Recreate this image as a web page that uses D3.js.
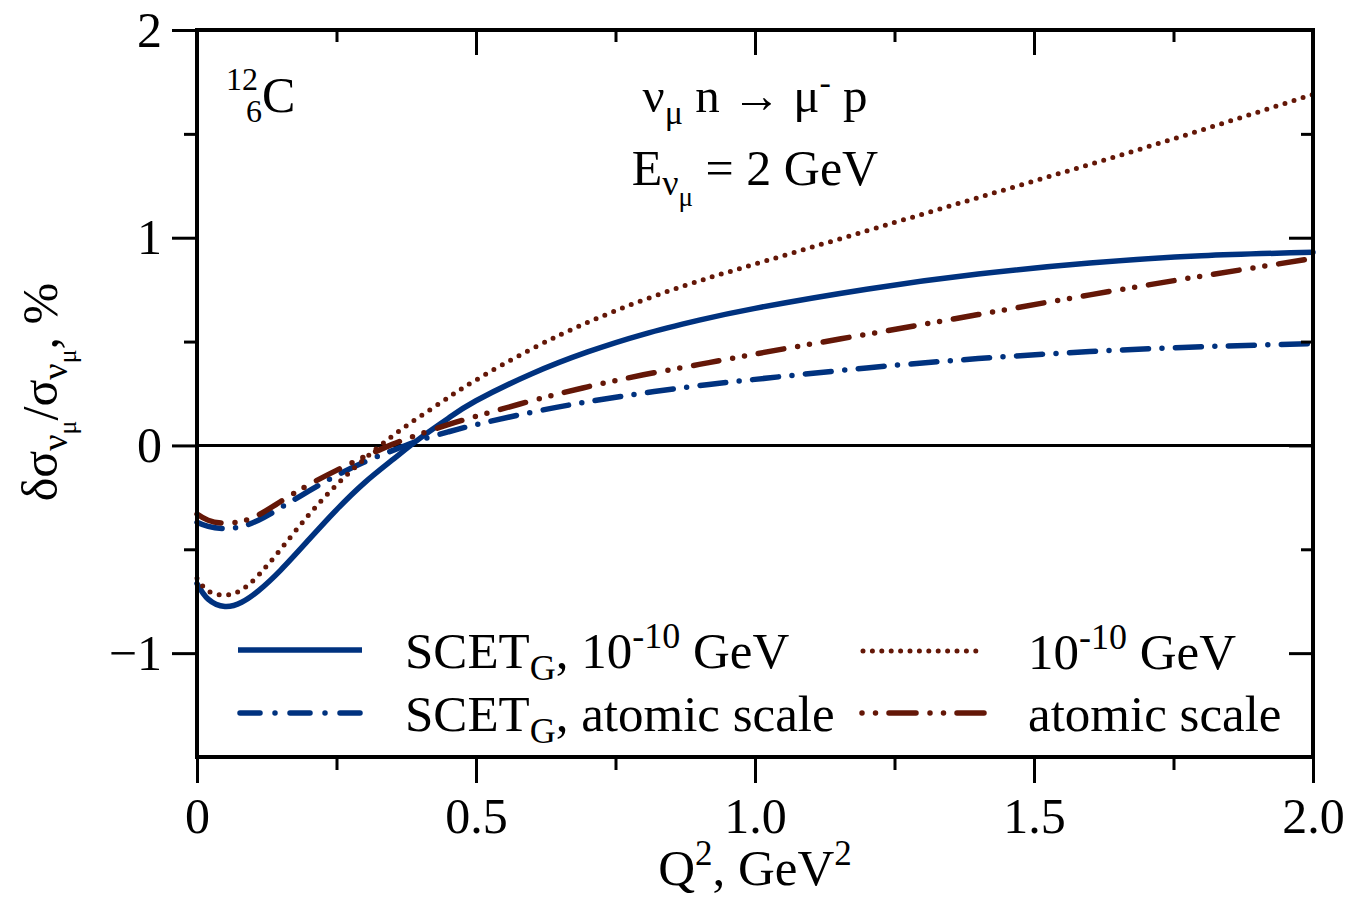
<!DOCTYPE html>
<html>
<head>
<meta charset="utf-8">
<script src="https://cdn.jsdelivr.net/npm/d3@7"></script>
<style>
  body { margin: 0; background: #fff; }
  svg text { font-family: "Liberation Serif", "Times New Roman", serif; fill: #000; }
</style>
</head>
<body>
<svg id="chart" width="1351" height="899"></svg>
<script>
const width = 1351;
const height = 899;
const margin = { top: 30, right: 38, bottom: 142, left: 197 };

// Q^2 sample points (GeV^2)
const q2 = [0, 0.02, 0.05, 0.08, 0.11, 0.15, 0.2, 0.25, 0.3, 0.35, 0.4, 0.45, 0.5, 0.6, 0.7, 0.8, 0.9, 1.0, 1.2, 1.4, 1.6, 1.8, 2.0];

// corrections in %
const scetFine   = [-0.665, -0.74, -0.775, -0.755, -0.70, -0.60, -0.455, -0.31, -0.18, -0.07, 0.035, 0.13, 0.215, 0.345, 0.45, 0.535, 0.603, 0.66, 0.752, 0.825, 0.878, 0.913, 0.93];
const scetAtomic = [-0.37, -0.39, -0.40, -0.39, -0.36, -0.30, -0.22, -0.145, -0.08, -0.025, 0.025, 0.065, 0.10, 0.16, 0.21, 0.252, 0.288, 0.318, 0.373, 0.418, 0.452, 0.475, 0.49];
const fine       = [-0.64, -0.70, -0.72, -0.695, -0.625, -0.50, -0.335, -0.19, -0.065, 0.045, 0.14, 0.23, 0.315, 0.465, 0.592, 0.7, 0.792, 0.873, 1.033, 1.193, 1.353, 1.518, 1.69];
const atomic     = [-0.33, -0.36, -0.375, -0.365, -0.335, -0.27, -0.19, -0.12, -0.055, 0.005, 0.055, 0.10, 0.14, 0.215, 0.282, 0.34, 0.39, 0.44, 0.535, 0.63, 0.725, 0.815, 0.90];

const xMajor = [0, 0.5, 1.0, 1.5, 2.0];
const xMinor = [0.25, 0.75, 1.25, 1.75];
const yMajor = [-1, 0, 1, 2];
const yMinor = [-0.5, 0.5, 1.5];

const blue = "#00327f";
const brown = "#641707";

const series = [
    { name: "scetFine", values: scetFine, color: blue, w: 5.5, dash: null, legDash: null },
    { name: "scetAtomic", values: scetAtomic, color: blue, w: 5.5, dash: "26 13.5 0 13.5", legDash: "20 15 0 15" },
    { name: "fine", values: fine, color: brown, w: 5, dash: "0 9.5", legDash: "0 9.4" },
    { name: "atomic", values: atomic, color: brown, w: 5.5, dash: "26 14 0 12 0 14", legDash: "0 13.5 0 13.5 27 14" }
];

const svg = d3.select("#chart");

const x = d3.scaleLinear()
    .domain([0, 2])
    .range([margin.left, width - margin.right]);

const y = d3.scaleLinear()
    .domain([-1.5, 2])
    .range([height - margin.bottom, margin.top]);

// rich text helper: parts with baseline shift s and font size f
function rich(sel, parts) {
    let prev = 0;
    parts.forEach(p => {
        const s = p.s || 0;
        sel.append("tspan")
            .attr("dy", s - prev)
            .style("font-size", p.f ? p.f + "px" : null)
            .text(p.t);
        prev = s;
    });
}

// zero line
svg.append("line")
    .attr("x1", x(0)).attr("x2", x(2))
    .attr("y1", y(0)).attr("y2", y(0))
    .attr("stroke", "#000")
    .attr("stroke-width", 3);

// curves
const line = d3.line()
    .x((d, i) => x(q2[i]))
    .y(d => y(d))
    .curve(d3.curveNatural);

series.forEach(s => {
    svg.append("path")
        .datum(s.values)
        .attr("fill", "none")
        .attr("stroke", s.color)
        .attr("stroke-width", s.w)
        .attr("stroke-linecap", "round")
        .attr("stroke-dasharray", s.dash)
        .attr("d", line);
});

// axes
function styleAxis(g) {
    g.select(".domain").remove();
    g.selectAll(".tick line").attr("stroke", "#000").attr("stroke-width", 3);
    g.selectAll(".tick text").style("font-size", "50px");
}

svg.append("g")
    .attr("transform", `translate(0,${y(-1.5)})`)
    .call(d3.axisBottom(x).tickValues(xMajor).tickSize(26).tickPadding(14)
        .tickFormat(d => d === 0 ? "0" : d3.format(".1f")(d)))
    .call(styleAxis)
    .selectAll(".tick text").attr("dy", "0.71em");

svg.append("g")
    .attr("transform", `translate(0,${y(-1.5)})`)
    .call(d3.axisBottom(x).tickValues(xMinor).tickSize(13).tickFormat(""))
    .call(styleAxis);

svg.append("g")
    .attr("transform", `translate(0,${y(2)})`)
    .call(d3.axisTop(x).tickValues(xMajor).tickSize(-25).tickFormat(""))
    .call(styleAxis);

svg.append("g")
    .attr("transform", `translate(0,${y(2)})`)
    .call(d3.axisTop(x).tickValues(xMinor).tickSize(-12).tickFormat(""))
    .call(styleAxis);

svg.append("g")
    .attr("transform", `translate(${x(0)},0)`)
    .call(d3.axisLeft(y).tickValues(yMajor).tickSize(25).tickPadding(10)
        .tickFormat(d => d < 0 ? "\u2212" + Math.abs(d) : String(d)))
    .call(styleAxis);

svg.append("g")
    .attr("transform", `translate(${x(0)},0)`)
    .call(d3.axisLeft(y).tickValues(yMinor).tickSize(13).tickFormat(""))
    .call(styleAxis);

svg.append("g")
    .attr("transform", `translate(${x(2)},0)`)
    .call(d3.axisRight(y).tickValues(yMajor).tickSize(-24).tickFormat(""))
    .call(styleAxis);

svg.append("g")
    .attr("transform", `translate(${x(2)},0)`)
    .call(d3.axisRight(y).tickValues(yMinor).tickSize(-12).tickFormat(""))
    .call(styleAxis);

// frame
svg.append("rect")
    .attr("x", x(0)).attr("y", y(2))
    .attr("width", x(2) - x(0))
    .attr("height", y(-1.5) - y(2))
    .attr("fill", "none")
    .attr("stroke", "#000")
    .attr("stroke-width", 4);

// axis titles
const xt = svg.append("text")
    .attr("x", x(1))
    .attr("y", 885)
    .attr("text-anchor", "middle")
    .style("font-size", "51px");
rich(xt, [{ t: "Q" }, { t: "2", s: -20, f: 35 }, { t: ", GeV" }, { t: "2", s: -20, f: 35 }]);

const yt = svg.append("text")
    .attr("transform", "translate(57,392) rotate(-90)")
    .attr("text-anchor", "middle")
    .style("font-size", "50px");
rich(yt, [
    { t: "\u03b4\u03c3" }, { t: "\u03bd", s: 10, f: 36 }, { t: "\u03bc", s: 19, f: 26 },
    { t: "/\u03c3" }, { t: "\u03bd", s: 10, f: 36 }, { t: "\u03bc", s: 19, f: 26 },
    { t: ", %" }
]);

// annotations: nucleus label as one text element
const nuc = svg.append("text").style("font-size", "50px");
nuc.append("tspan").attr("x", 258).attr("y", 90).attr("text-anchor", "end")
    .style("font-size", "32px").text("12");
nuc.append("tspan").attr("x", 262).attr("y", 122).attr("text-anchor", "end")
    .style("font-size", "32px").text("6");
nuc.append("tspan").attr("x", 262).attr("y", 112).attr("text-anchor", "start").text("C");

const reac = svg.append("text")
    .attr("x", x(1)).attr("y", 112)
    .attr("text-anchor", "middle")
    .style("font-size", "49px");
rich(reac, [
    { t: "\u03bd" }, { t: "\u03bc", s: 12, f: 34 }, { t: " n \u2192 \u03bc" },
    { t: "-", s: -18, f: 34 }, { t: " p" }
]);

const energy = svg.append("text")
    .attr("x", x(1)).attr("y", 185)
    .attr("text-anchor", "middle")
    .style("font-size", "50px");
rich(energy, [
    { t: "E" }, { t: "\u03bd", s: 10, f: 36 }, { t: "\u03bc", s: 21, f: 27 },
    { t: " = 2 GeV" }
]);

// legend
const legendRows = [
    { s: series[0], x0: 238, x1: 362, y: 650, tx: 405, parts: [{ t: "SCET" }, { t: "G", s: 12, f: 36 }, { t: ", 10" }, { t: "-10", s: -20, f: 36 }, { t: " GeV" }] },
    { s: series[1], x0: 240, x1: 360, y: 713, tx: 405, parts: [{ t: "SCET" }, { t: "G", s: 12, f: 36 }, { t: ", atomic scale" }] },
    { s: series[2], x0: 863, x1: 985, y: 651, tx: 1028, parts: [{ t: "10" }, { t: "-10", s: -20, f: 36 }, { t: " GeV" }] },
    { s: series[3], x0: 862, x1: 984, y: 713, tx: 1028, parts: [{ t: "atomic scale" }] }
];

legendRows.forEach(r => {
    svg.append("line")
        .attr("x1", r.x0).attr("x2", r.x1)
        .attr("y1", r.y).attr("y2", r.y)
        .attr("stroke", r.s.color)
        .attr("stroke-width", r.s.w)
        .attr("stroke-linecap", r.s.dash ? "round" : "butt")
        .attr("stroke-dasharray", r.s.legDash);
    const t = svg.append("text")
        .attr("x", r.tx).attr("y", r.y + 18)
        .style("font-size", "51px");
    rich(t, r.parts);
});
</script>
</body>
</html>
